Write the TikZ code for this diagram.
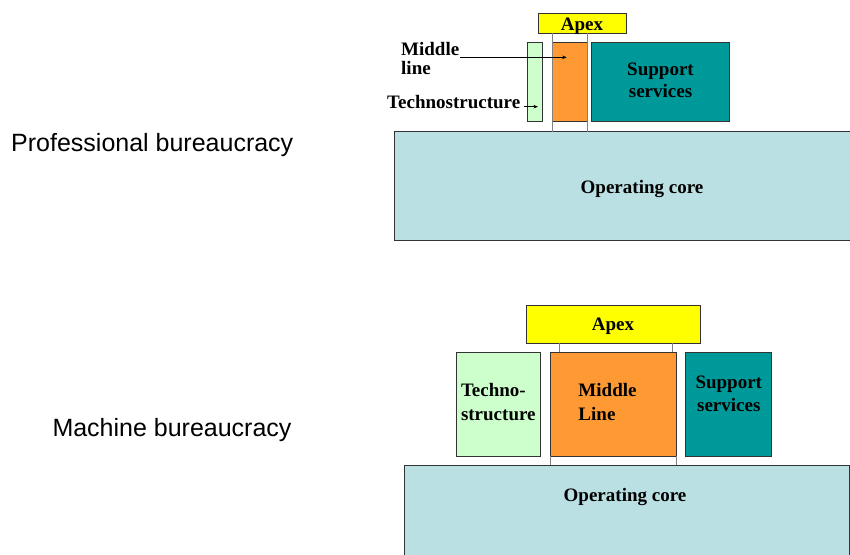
\documentclass[tikz,border=0pt]{standalone}
\usepackage{fontspec}
\setmainfont{Liberation Serif}
\newfontfamily\arialf{Liberation Sans}
\usetikzlibrary{arrows.meta}
\definecolor{apexY}{HTML}{FFFF00}
\definecolor{midO}{HTML}{FF9933}
\definecolor{supC}{HTML}{009999}
\definecolor{techG}{HTML}{CCFFCC}
\definecolor{coreC}{HTML}{BAE0E3}
\definecolor{edgeC}{HTML}{333333}
\begin{document}
\begin{tikzpicture}[x=1pt,y=-1pt,
  box/.style={draw=edgeC, line width=0.9pt, inner sep=0pt, outer sep=0pt},
  lbl/.style={font=\fontsize{19}{21.7}\selectfont\bfseries, inner sep=0pt, align=center},
  lblL/.style={font=\fontsize{19}{23.3}\selectfont\bfseries, inner sep=0pt, align=left},
  side/.style={font=\arialf\fontsize{25}{28}\selectfont, inner sep=0pt},
  conn/.style={draw=gray, line width=0.7pt},
  arr/.style={-{Stealth[length=4.5pt,width=3.5pt]}, line width=0.6pt}]
\useasboundingbox (0,0) rectangle (850,554);
\clip (0,0) rectangle (850,554);

% ---------- Professional bureaucracy ----------
\node[side, anchor=base west] (profL) at (11,151) {Professional bureaucracy};

\node[box, fill=coreC, minimum width=495pt, minimum height=108.3pt] (coreT) at (642,185.85) {};
\node[lbl, anchor=base] (coreTtxt) at (642,193.3) {Operating core};
\node[box, fill=apexY, minimum width=88pt, minimum height=20pt] (apexT) at (582,23) {};
\node[lbl, anchor=base] (apexTtxt) at (582,30) {Apex};
\node[box, fill=techG, minimum width=14.6pt, minimum height=79pt] (techT) at (535,82.2) {};
\node[box, fill=midO, minimum width=34.5pt, minimum height=79pt] (midT) at (569.75,82.2) {};
\node[box, fill=supC, minimum width=137.6pt, minimum height=79pt] (supT) at (660.5,82.2) {};
\node[lbl] (supTtxt) at (660.5,80.2) {Support\\services};

\draw[conn] (apexT.south -| midT.west) -- (coreT.north -| midT.west);
\draw[conn] (apexT.south -| midT.east) -- (coreT.north -| midT.east);

\node[font=\fontsize{19}{18.5}\selectfont\bfseries, inner sep=0pt, align=left, anchor=west] (midLbl) at (401,58.5) {Middle\\line};
\node[font=\fontsize{19}{22}\selectfont\bfseries, inner sep=0pt, anchor=base west] (techLbl) at (387,108.3) {Technostructure};
\coordinate (midArrS) at (460,57.3);
\coordinate (midArrE) at (566.7,57.3);
\coordinate (techArrS) at (524,106.7);
\coordinate (techArrE) at (538,106.7);
\draw[arr] (midArrS) -- (midArrE);
\draw[arr] (techArrS) -- (techArrE);

% ---------- Machine bureaucracy ----------
\node[side, anchor=base west] (machL) at (52.3,436.7) {Machine bureaucracy};

\node[box, fill=coreC, minimum width=444.7pt, minimum height=105pt] (coreB) at (626.65,517.5) {};
\node[lbl, anchor=base] (coreBtxt) at (625,501.7) {Operating core};
\node[box, fill=apexY, minimum width=174pt, minimum height=38.3pt] (apexB) at (613,324.2) {};
\node[lbl, anchor=base] (apexBtxt) at (613,330.7) {Apex};
\node[box, fill=techG, minimum width=84.7pt, minimum height=103.7pt] (techB) at (498.3,404.2) {};
\node[lblL] (techBtxt) at (498.3,402) {Techno-\\structure};
\node[box, fill=midO, minimum width=126.7pt, minimum height=103.7pt] (midB) at (613.3,404.2) {};
\node[box, fill=supC, minimum width=86pt, minimum height=103.7pt] (supB) at (728.7,404.2) {};
\node[lblL] (midBtxt) at (607.5,402) {Middle\\Line};
\node[font=\fontsize{19}{22.7}\selectfont\bfseries, inner sep=0pt, align=center] (supBtxt) at (728.8,393.5) {Support\\services};

\draw[conn] ([xshift=9.3pt]midB.north west) -- ([xshift=9.3pt]midB.north west |- apexB.south);
\draw[conn] ([xshift=-4.4pt]midB.north east) -- ([xshift=-4.4pt]midB.north east |- apexB.south);
\draw[conn] (midB.south west) -- (midB.south west |- coreB.north);
\draw[conn] (midB.south east) -- (midB.south east |- coreB.north);
\end{tikzpicture}
\end{document}
